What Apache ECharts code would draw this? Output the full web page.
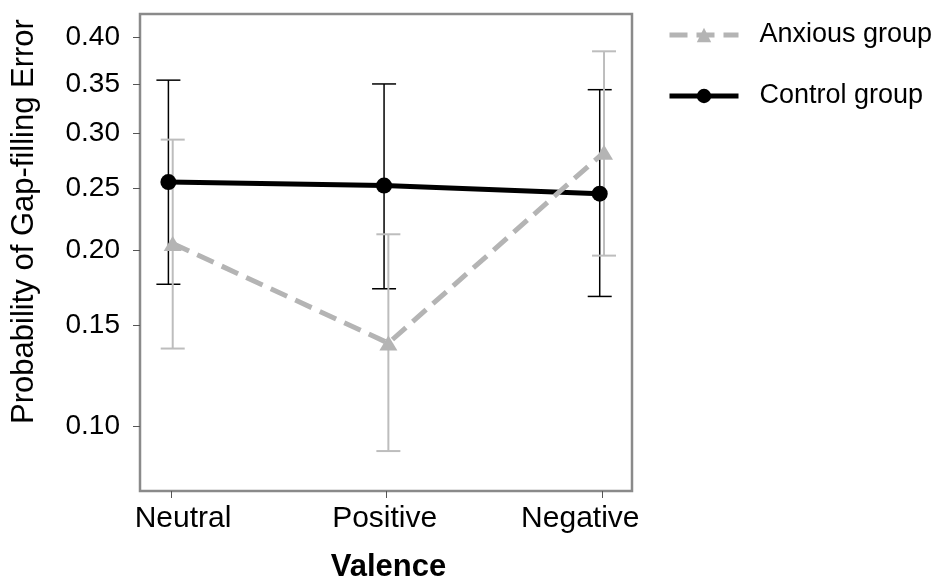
<!DOCTYPE html>
<html><head><meta charset="utf-8">
<script src="https://cdn.jsdelivr.net/npm/echarts@6/dist/echarts.min.js"></script>
<style>html,body{margin:0;padding:0;background:#fff}#c{width:939px;height:578px}</style>
</head><body><div id="c"></div>
<script>
// ---- data ----
const categories = ['Neutral', 'Positive', 'Negative'];
const seriesNames = ['Anxious group', 'Control group'];
const anxiousMean  = [0.205, 0.140, 0.282];
const anxiousUpper = [0.294, 0.212, 0.385];
const anxiousLower = [0.137, 0.090, 0.196];
const controlMean  = [0.255, 0.252, 0.245];
const controlUpper = [0.354, 0.350, 0.344];
const controlLower = [0.176, 0.173, 0.168];
const yTickLabels  = [0.10, 0.15, 0.20, 0.25, 0.30, 0.35, 0.40];
const xAxisTitle = 'Valence';
const yAxisTitle = 'Probability of Gap-filling Error';

// ---- logit scale helpers ----
const logit = p => Math.log(p / (1 - p));
const invlogit = l => 1 / (1 + Math.exp(-l));

const FONT = 'Arial, "Liberation Sans", sans-serif';
const GRAY_LINE = '#b4b4b4';
const GRAY_ERR = '#bdbdbd';
const ctrlOff = -0.012, anxOff = 0.008;

function errRender(offset, color, width) {
  return function (params, api) {
    const x = api.value(0) + offset;
    const lo = api.coord([x, api.value(1)]);
    const hi = api.coord([x, api.value(2)]);
    const hw = 12;
    const st = { stroke: color, lineWidth: width };
    return { type: 'group', children: [
      { type: 'line', shape: { x1: lo[0], y1: lo[1], x2: hi[0], y2: hi[1] }, style: st },
      { type: 'line', shape: { x1: lo[0] - hw, y1: lo[1], x2: lo[0] + hw, y2: lo[1] }, style: st },
      { type: 'line', shape: { x1: hi[0] - hw, y1: hi[1], x2: hi[0] + hw, y2: hi[1] }, style: st }
    ]};
  };
}

const errData = (lo, hi) => categories.map((c, i) => [i, logit(lo[i]), logit(hi[i])]);
const lineData = (m, off) => categories.map((c, i) => [i + off, logit(m[i])]);

const chart = echarts.init(document.getElementById('c'), null, { renderer: 'canvas' });
chart.setOption({
  animation: false,
  backgroundColor: '#fff',
  grid: { left: 140, top: 14, right: 307, bottom: 87, show: true, borderColor: '#8a8a8a', borderWidth: 2.5,
          containLabel: false, outerBoundsMode: 'none' },
  legend: {
    orient: 'vertical', left: 667, top: 20, padding: 0,
    data: seriesNames,
    itemWidth: 69, itemHeight: 18, itemGap: 31,
    lineStyle: { width: 5 },
    textStyle: { fontSize: 27, fontFamily: FONT, color: '#000', lineHeight: 30, padding: [0, 0, 0, 16] }
  },
  xAxis: {
    type: 'value', min: -0.1437, max: 2.1377,
    splitLine: { show: false },
    axisLine: { show: false, onZero: false },
    axisTick: { show: true, customValues: [0, 1, 2], length: 7, lineStyle: { color: '#555', width: 1 } },
    axisLabel: {
      customValues: [0, 1, 2], margin: 13,
      formatter: v => { const i = Math.round(v); return '{c' + i + '|' + categories[i] + '}'; },
      rich: {
        c0: { fontSize: 30, fontFamily: FONT, color: '#000', padding: [0, 0, 0, 24] },
        c1: { fontSize: 30, fontFamily: FONT, color: '#000', padding: [0, 4, 0, 0] },
        c2: { fontSize: 30, fontFamily: FONT, color: '#000', padding: [0, 44, 0, 0] }
      }
    },
    name: xAxisTitle, nameLocation: 'middle', nameGap: 61,
    nameTextStyle: { fontSize: 31, fontWeight: 'bold', fontFamily: FONT, color: '#000', padding: [0, 0, 0, 5] }
  },
  yAxis: {
    type: 'value', min: logit(0.0760), max: logit(0.4265),
    splitLine: { show: false },
    axisLine: { show: false, onZero: false },
    axisTick: { show: true, customValues: yTickLabels.map(logit), length: 7, lineStyle: { color: '#555', width: 1 } },
    axisLabel: {
      customValues: yTickLabels.map(logit), margin: 20,
      formatter: v => invlogit(v).toFixed(2),
      fontSize: 28, fontFamily: FONT, color: '#000'
    },
    name: yAxisTitle, nameLocation: 'middle', nameGap: 100,
    nameTextStyle: { fontSize: 31, fontFamily: FONT, color: '#000', padding: [0, 0, 0, 62] }
  },
  series: [
    { type: 'custom', name: 'cerr', renderItem: errRender(ctrlOff, '#000', 1.5),
      data: errData(controlLower, controlUpper), encode: { x: 0, y: [1, 2] }, z: 1, silent: true },
    { type: 'custom', name: 'aerr', renderItem: errRender(anxOff, GRAY_ERR, 2),
      data: errData(anxiousLower, anxiousUpper), encode: { x: 0, y: [1, 2] }, z: 1, silent: true },
    { type: 'line', name: seriesNames[1], data: lineData(controlMean, ctrlOff), z: 2,
      symbol: 'circle', symbolSize: 16,
      lineStyle: { color: '#000', width: 5 }, itemStyle: { color: '#000' } },
    { type: 'line', name: seriesNames[0], data: lineData(anxiousMean, anxOff), z: 3,
      symbol: 'triangle', symbolSize: [18, 15],
      lineStyle: { color: GRAY_LINE, width: 5, type: [18, 9] }, itemStyle: { color: GRAY_LINE } }
  ]
});
</script>
</body></html>
